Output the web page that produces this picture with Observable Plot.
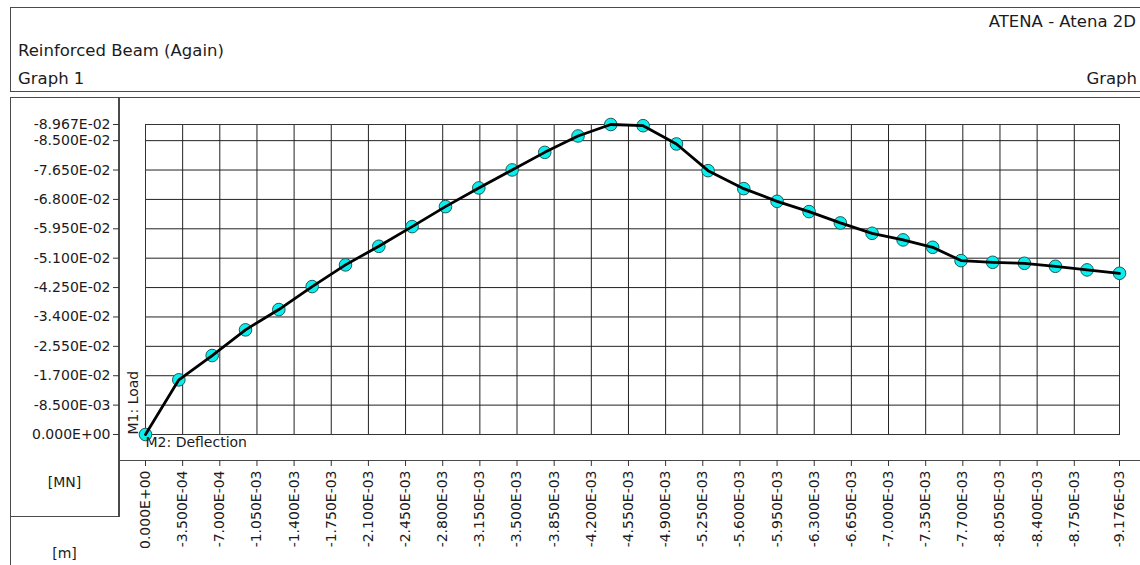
<!DOCTYPE html>
<html>
<head>
<meta charset="utf-8">
<script src="https://cdn.jsdelivr.net/npm/d3@7"></script>
<script src="https://cdn.jsdelivr.net/npm/@observablehq/plot@0.6"></script>
<style>
  html, body { margin: 0; padding: 0; background: #fff; }
  #page { position: relative; width: 1140px; height: 565px; overflow: hidden; font-family: "DejaVu Sans", sans-serif; color: #1b1b22; }
  .box { position: absolute; border-color: #4a4a4a; border-style: solid; border-width: 0; box-sizing: border-box; }
  .txt { position: absolute; white-space: nowrap; line-height: 16px; }
  .head { font-size: 16.5px; }
  #chart { position: absolute; left: 0; top: 0; }
</style>
</head>
<body>
<div id="page">
  <!-- header panel -->
  <div class="box" style="left:10px; top:7px; width:1140px; height:85px; border-width:1.5px 0 1.5px 1.5px;"></div>
  <div class="txt head" style="right:4px; top:14px;">ATENA - Atena 2D</div>
  <div class="txt head" style="left:18px; top:43px;">Reinforced Beam (Again)</div>
  <div class="txt head" style="left:18px; top:71px;">Graph 1</div>
  <div class="txt head" style="right:3px; top:71px;">Graph</div>

  <!-- chart panel frames -->
  <div class="box" style="left:10px; top:97px; width:1140px; height:480px; border-width:1.5px 0 0 1.5px;"></div>
  <div class="box" style="left:118px; top:97px; width:1.5px; height:420px; background:#4a4a4a;"></div>
  <div class="box" style="left:10px; top:515.5px; width:110px; height:1.5px; background:#4a4a4a;"></div>
  <div class="box" style="left:118px; top:459.5px; width:1030px; height:1.5px; background:#4a4a4a;"></div>

  <!-- units -->
  <div class="txt" style="left:10px; width:109px; text-align:center; top:474px; font-size:14px;">[MN]</div>
  <div class="txt" style="left:10px; width:109px; text-align:center; top:545px; font-size:14px;">[m]</div>

  <div id="chart"></div>
</div>
<script>
// Load–deflection curve of the beam (monitor M1 = load, M2 = deflection)
const deflection = [
  0, -3.14e-4, -6.28e-4, -9.42e-4, -1.256e-3, -1.570e-3, -1.884e-3, -2.198e-3,
  -2.512e-3, -2.826e-3, -3.140e-3, -3.454e-3, -3.761e-3, -4.075e-3, -4.383e-3,
  -4.688e-3, -5.002e-3, -5.300e-3, -5.636e-3, -5.950e-3, -6.251e-3, -6.546e-3,
  -6.845e-3, -7.137e-3, -7.416e-3, -7.683e-3, -7.981e-3, -8.280e-3, -8.572e-3,
  -8.870e-3, -9.176e-3
];
const load = [
  0, -0.01581, -0.02284, -0.03027, -0.03614, -0.04279, -0.04906, -0.05444,
  -0.06013, -0.06592, -0.07132, -0.07653, -0.08161, -0.08635, -0.08967,
  -0.08933, -0.08404, -0.07632, -0.07112, -0.06745, -0.06447, -0.06120,
  -0.05820, -0.05629, -0.05415, -0.05030, -0.04981, -0.04952, -0.04866,
  -0.04761, -0.04663
];

// Axis ticks (the last one on each axis marks the extreme value)
const xTicks = [
  0, -0.00035, -0.0007, -0.00105, -0.0014, -0.00175, -0.0021, -0.00245, -0.0028,
  -0.00315, -0.0035, -0.00385, -0.0042, -0.00455, -0.0049, -0.00525, -0.0056,
  -0.00595, -0.0063, -0.00665, -0.007, -0.00735, -0.0077, -0.00805, -0.0084,
  -0.00875, -0.009176
];
const yTicks = [
  0, -0.0085, -0.017, -0.0255, -0.034, -0.0425, -0.051, -0.0595, -0.068,
  -0.0765, -0.085, -0.08967
];

// Scientific notation like 0.000E+00, -3.500E-04
function sci(v) {
  if (v === 0) return "0.000E+00";
  const [m, e] = v.toExponential(3).split("e");
  const n = Math.abs(+e);
  return m + "E" + (+e < 0 ? "-" : "+") + String(n).padStart(2, "0");
}

const rows = deflection.map((d, i) => ({deflection: d, load: load[i]}));
const gridColor = "#222";

const chart = Plot.plot({
  width: 1140,
  height: 565,
  marginLeft: 145,
  marginRight: 21,
  marginTop: 124,
  marginBottom: 131,
  style: {fontFamily: "DejaVu Sans, sans-serif", fontSize: "14px", color: "#1b1b22", background: "transparent"},
  x: {domain: [0, -0.009176]},
  y: {domain: [0, -0.08967]},
  marks: [
    Plot.gridX(xTicks, {stroke: gridColor, strokeOpacity: 1, strokeWidth: 1}),
    Plot.gridY(yTicks, {stroke: gridColor, strokeOpacity: 1, strokeWidth: 1}),
    Plot.frame({stroke: "#333"}),
    Plot.axisY(yTicks, {anchor: "left", dx: -26, tickSize: 6, tickPadding: 3, tickFormat: sci, label: null, stroke: "#333"}),
    Plot.axisX(xTicks, {anchor: "bottom", dy: 26, tickSize: 6, tickPadding: 4, tickRotate: -90, tickFormat: sci, label: null, stroke: "#333"}),
    Plot.dot(rows, {x: "deflection", y: "load", r: 6.3, fill: "#0aeeee", stroke: "#1f5a5a", strokeWidth: 1}),
    Plot.line(rows, {x: "deflection", y: "load", stroke: "#000", strokeWidth: 2.8}),
    Plot.text(["M1: Load"], {frameAnchor: "bottom-left", rotate: -90, textAnchor: "start", dx: -8, dy: 0, fill: "#1b1b22"}),
    Plot.text(["M2: Deflection"], {frameAnchor: "bottom-left", textAnchor: "start", dx: 0, dy: 12, fill: "#1b1b22"})
  ]
});
document.getElementById("chart").appendChild(chart);
</script>
</body>
</html>
